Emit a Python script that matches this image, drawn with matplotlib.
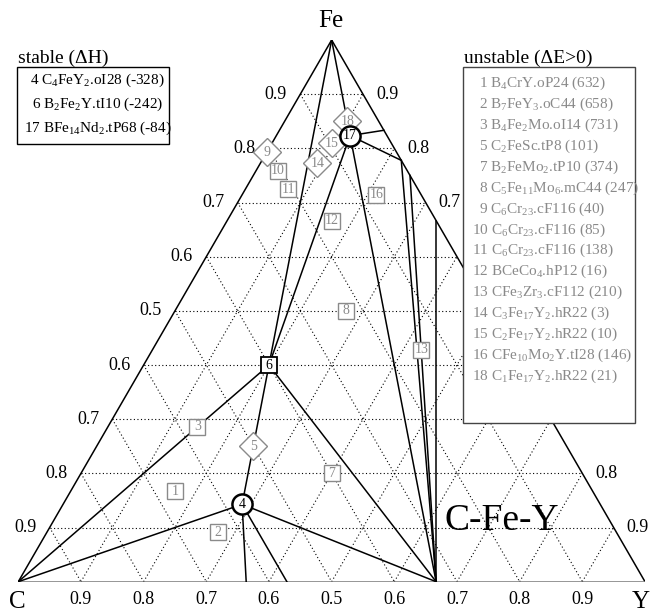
import numpy as np
import matplotlib
matplotlib.use("Agg")
import matplotlib.pyplot as plt
from matplotlib.patches import Rectangle

plt.rcParams['font.family'] = ['Liberation Serif', 'DejaVu Serif']
plt.rcParams['mathtext.fontset'] = 'custom'
plt.rcParams['mathtext.rm'] = 'Liberation Serif'
plt.rcParams['mathtext.it'] = 'Liberation Serif:italic'

W, H = 657, 611
S3 = np.sqrt(3) / 2

# ---------------- data (atom counts C, Fe, Y) ----------------
corner_names = ["C", "Fe", "Y"]

stable_ids = ["4", "6", "17"]
stable_comp = [(4, 1, 2), (2, 2, 1), (1, 14, 2)]
stable_marker = ["o", "s", "o"]
stable_labels = [r"4 C$_4$FeY$_2$.oI28 (-328)",
                 r"6 B$_2$Fe$_2$Y.tI10 (-242)",
                 r"17 BFe$_{14}$Nd$_2$.tP68 (-84)"]

unstable_ids = ["1", "2", "3", "5", "7", "8", "9", "10", "11", "12", "13",
                "14", "15", "16", "18"]
unstable_comp = [(4, 1, 1), (7, 1, 3), (4, 2, 1), (2, 1, 1), (2, 1, 2),
                 (5, 11, 6), (6, 23, 0), (6, 22, 1), (6, 21, 2), (1, 4, 1),
                 (1, 3, 3), (3, 17, 2), (2, 17, 2), (1, 10, 3), (1, 17, 2)]
unstable_marker = ["s", "s", "s", "D", "s", "s", "D", "s", "s", "s", "s",
                   "D", "D", "s", "D"]
unstable_labels = [r"1 B$_4$CrY.oP24 (632)",
                   r"2 B$_7$FeY$_3$.oC44 (658)",
                   r"3 B$_4$Fe$_2$Mo.oI14 (731)",
                   r"5 C$_2$FeSc.tP8 (101)",
                   r"7 B$_2$FeMo$_2$.tP10 (374)",
                   r"8 C$_5$Fe$_{11}$Mo$_6$.mC44 (247)",
                   r"9 C$_6$Cr$_{23}$.cF116 (40)",
                   r"10 C$_6$Cr$_{23}$.cF116 (85)",
                   r"11 C$_6$Cr$_{23}$.cF116 (138)",
                   r"12 BCeCo$_4$.hP12 (16)",
                   r"13 CFe$_3$Zr$_3$.cF112 (210)",
                   r"14 C$_3$Fe$_{17}$Y$_2$.hR22 (3)",
                   r"15 C$_2$Fe$_{17}$Y$_2$.hR22 (10)",
                   r"16 CFe$_{10}$Mo$_2$Y.tI28 (146)",
                   r"18 C$_1$Fe$_{17}$Y$_2$.hR22 (21)"]

# binary end points used by tie lines
binary_comp = {"C": (1, 0, 0), "Fe": (0, 1, 0), "Y": (0, 0, 1),
               "Y2C": (1, 0, 2), "Y4C7": (7, 0, 4), "Y3C4": (4, 0, 3),
               "Fe5Y": (0, 5, 1), "Fe7Y2": (0, 7, 2), "Fe3Y": (0, 3, 1),
               "Fe2Y": (0, 2, 1)}

tie_lines = [("Fe", "6"), ("Fe", "17"), ("17", "6"), ("C", "6"), ("6", "4"),
             ("C", "4"), ("4", "Y4C7"), ("4", "Y3C4"), ("4", "Y2C"),
             ("6", "Y2C"), ("17", "Y2C"), ("17", "Fe5Y"), ("17", "Fe7Y2"),
             ("Fe7Y2", "Y2C"), ("Fe3Y", "Y2C"), ("Fe2Y", "Y2C")]

grid_values = [0.1, 0.2, 0.3, 0.4, 0.5, 0.6, 0.7, 0.8, 0.9]
# right-edge labels that lie completely under the unstable legend box
right_hidden = [0.4, 0.5, 0.6]

# ---------------- helpers ----------------
def tern(comp):
    c, fe, y = comp
    t = float(c + fe + y)
    return (y + fe / 2.0) / t, fe * S3 / t

points = {k: tern(v) for k, v in binary_comp.items()}
for i, k in enumerate(stable_ids):
    points[k] = tern(stable_comp[i])

def fp(xpx, ypx):
    return xpx / W, 1 - ypx / H

GRAY = "#8a8a8a"

fig = plt.figure(figsize=(W / 100, H / 100), dpi=100)
ax = fig.add_axes([18.3 / W, (H - 581.7) / H, 626.7 / W, 541.7 / H])
ax.set_xlim(0, 1)
ax.set_ylim(0, S3)
ax.axis("off")

# grid (dotted)
gkw = dict(color="black", lw=0.8, ls=(0, (1, 2.2)), zorder=1)
for g in grid_values:
    a = tern((1 - g, g, 0)); b = tern((0, g, 1 - g))
    ax.plot([a[0], b[0]], [a[1], b[1]], **gkw)
    a = tern((g, 1 - g, 0)); b = tern((g, 0, 1 - g))
    ax.plot([a[0], b[0]], [a[1], b[1]], **gkw)
    a = tern((1 - g, 0, g)); b = tern((0, 1 - g, g))
    ax.plot([a[0], b[0]], [a[1], b[1]], **gkw)

# triangle edges
for a, b in [("C", "Fe"), ("Fe", "Y")]:
    ax.plot([points[a][0], points[b][0]], [points[a][1], points[b][1]],
            color="black", lw=1.1, zorder=2, solid_capstyle="butt")
ax.plot([points["C"][0], points["Y"][0]], [points["C"][1], points["Y"][1]],
        color="#777777", lw=1.8, zorder=2)

# tie lines
for a, b in tie_lines:
    ax.plot([points[a][0], points[b][0]], [points[a][1], points[b][1]],
            color="black", lw=1.1, zorder=3)

# tick labels
for g in grid_values:
    lab = "%.1f" % (g if g >= 0.5 else 1 - g)
    xb, yb = tern((1 - g, 0, g))
    ax.annotate(lab, (xb, yb), xytext=(0, -13), textcoords="offset points",
                ha="center", va="center", fontsize=13, zorder=4,
                annotation_clip=False)
    xl, yl = tern((1 - g, g, 0))
    ax.annotate(lab, (xl, yl), xytext=(-9.5, 0), textcoords="offset points",
                ha="right", va="center", fontsize=13, zorder=4,
                annotation_clip=False)
    if g in right_hidden:
        continue
    xr, yr = tern((0, g, 1 - g))
    ax.annotate(lab, (xr, yr), xytext=(9.5, 0), textcoords="offset points",
                ha="left", va="center", fontsize=13, zorder=4,
                annotation_clip=False)

# corner labels
fig.text(*fp(17.5, 601.5), "C", ha="center", va="center", fontsize=18)
fig.text(*fp(641, 601.5), "Y", ha="center", va="center", fontsize=18)
fig.text(*fp(331, 21), "Fe", ha="center", va="center", fontsize=18)

# unstable markers
for i, k in enumerate(unstable_ids):
    x, y = tern(unstable_comp[i])
    ms = 11.5 if unstable_marker[i] == "s" else 14
    ax.plot(x, y, marker=unstable_marker[i], ms=ms, mfc="white", mec=GRAY,
            mew=1.0, zorder=5, clip_on=False)
    ax.text(x, y, k, ha="center", va="center", fontsize=10, color=GRAY,
            zorder=6)

# stable markers
for i, k in enumerate(stable_ids):
    x, y = points[k]
    if stable_marker[i] == "o":
        ax.plot(x, y, marker="o", ms=14.5, mfc="white", mec="black", mew=1.8,
                zorder=7)
    else:
        ax.plot(x, y, marker="s", ms=12, mfc="white", mec="black", mew=1.3,
                zorder=7)
    ax.text(x, y, k, ha="center", va="center", fontsize=10, color="black",
            zorder=8)

# system label
fig.text(*fp(501.7, 530), "C-Fe-Y", ha="center", va="baseline", fontsize=27)

# stable legend
fig.text(*fp(18.3, 63.3), "stable (\u0394H)", ha="left", va="baseline",
         fontsize=14)
x0, y0 = fp(17.3, 144)
x1, y1 = fp(169.3, 67)
fig.add_artist(Rectangle((x0, y0), x1 - x0, y1 - y0, transform=fig.transFigure,
                         fc="white", ec="black", lw=1.0, zorder=10))
for i, s in enumerate(stable_labels):
    fig.text(*fp(97.5, 84.3 + 23.7 * i), s, ha="center", va="baseline",
             fontsize=11, color="black", zorder=11)

# unstable legend
fig.text(*fp(463.5, 63.3), "unstable (\u0394E>0)", ha="left", va="baseline",
         fontsize=14)
x0, y0 = fp(463.3, 423.3)
x1, y1 = fp(635, 66.7)
fig.add_artist(Rectangle((x0, y0), x1 - x0, y1 - y0, transform=fig.transFigure,
                         fc="white", ec="#444444", lw=1.0, zorder=10))
for i, s in enumerate(unstable_labels):
    xs = 479 if len(unstable_ids[i]) == 1 else 472.3
    fig.text(*fp(xs, 86.7 + 20.95 * i), s, ha="left", va="baseline",
             fontsize=11, color=GRAY, zorder=11)

fig.savefig("out.png", dpi=100)
